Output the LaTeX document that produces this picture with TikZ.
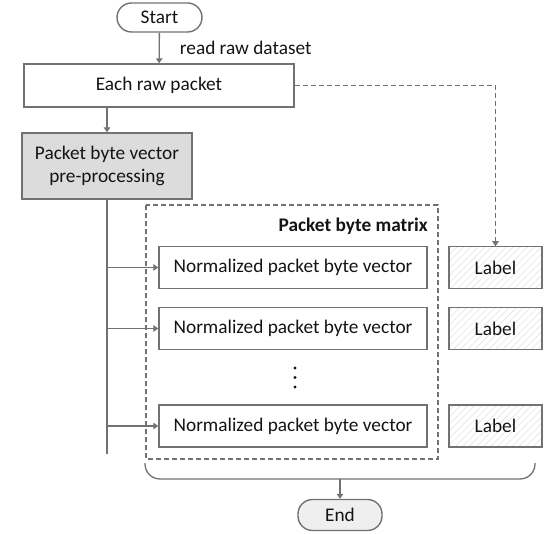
\documentclass[tikz,border=0pt]{standalone}
\usepackage{fontspec}
\setmainfont{Carlito}
\usetikzlibrary{arrows.meta,patterns.meta}
\definecolor{linegray}{HTML}{727272}
\definecolor{boxgray}{HTML}{DCDCDC}
\definecolor{endgray}{HTML}{EFEFEF}
\definecolor{textdark}{HTML}{141414}

\begin{document}
\begin{tikzpicture}[x=1pt, y=-1pt,
  box/.style={draw=linegray, line width=1.4pt, inner sep=0pt, text=textdark,
              font=\fontsize{19.3}{22.5}\selectfont, align=center},
  terminal/.style={box, rounded corners=14.5pt, minimum height=29pt},
  vecbox/.style={box, minimum width=268pt, minimum height=42pt},
  labelbox/.style={box, minimum width=93pt, minimum height=42pt,
                   pattern={Lines[angle=45, distance=5pt, line width=0.5pt]},
                   pattern color=gray!25},
  conn/.style={draw=linegray, line width=1.3pt},
  arr/.style={conn, -{Triangle[width=6.5pt, length=5pt]}},
  dasharr/.style={arr, dash pattern=on 5pt off 3pt, line width=1.1pt},
]
  \useasboundingbox (0,0) rectangle (554,534);

  % top of the flow
  \node[terminal, minimum width=85pt] (start) at (159.5,17.5) {Start};
  \node[box, minimum width=270pt, minimum height=43pt] (raw) at (159,85.5) {Each raw packet};
  \node[box, fill=boxgray, minimum width=170pt, minimum height=66pt] (pre) at (107,166)
    {Packet byte vector\\pre-processing};

  \draw[arr] (start) -- node[anchor=west, xshift=20pt, inner sep=0pt, text=textdark,
    font=\fontsize{19.3}{22.5}\selectfont] (readlbl) {read raw dataset} (raw);
  \draw[arr] (raw.south -| pre.north) -- (pre.north);

  % matrix box
  \draw[draw=linegray, line width=1.1pt, dash pattern=on 5pt off 3pt]
    (146,205) rectangle (438,459);
  \node[anchor=east, inner sep=0pt, text=textdark, font=\fontsize{19.3}{22.5}\selectfont\bfseries]
    (mtitle) at (428,226) {Packet byte matrix};

  \node[vecbox] (v1) at (293,267.5) {Normalized packet byte vector};
  \node[vecbox] (v2) at (293,328.5) {Normalized packet byte vector};
  \node[vecbox] (v3) at (293,426) {Normalized packet byte vector};
  \fill[textdark] (295,368) circle (1.6pt) (295,377.5) circle (1.6pt) (295,387) circle (1.6pt);

  \node[labelbox] (l1) at (495.5,267.5) {Label};
  \node[labelbox] (l2) at (495.5,328.5) {Label};
  \node[labelbox] (l3) at (495.5,426) {Label};

  % trunk and branches
  \coordinate (trunk) at (107,454);
  \draw[conn] (pre.south) -- (trunk);
  \draw[arr] (pre.south |- v1.west) -- (v1.west);
  \draw[arr] (pre.south |- v2.west) -- (v2.west);
  \draw[arr] (pre.south |- v3.west) -- (v3.west);

  % label link
  \draw[dasharr] (raw.east) -| (l1.north);

  % bracket and end
  \node[terminal, fill=endgray, minimum width=84pt, minimum height=31pt] (end) at (340,515) {End};
  \coordinate (brace) at (340,479);
  \draw[conn, rounded corners=15pt] (145,463) |- (brace) -| (535,463);
  \draw[arr] (brace) -- (end.north);

\end{tikzpicture}
\end{document}
